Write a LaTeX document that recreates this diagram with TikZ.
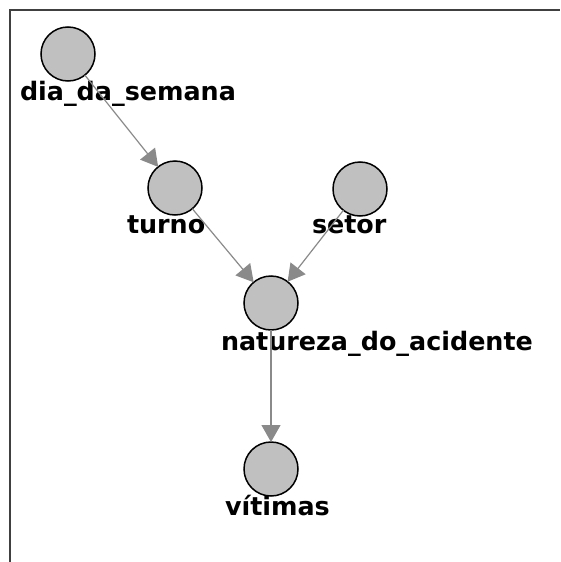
\documentclass[tikz,border=0pt]{standalone}
\usepackage{fontspec}
\setmainfont{DejaVu Sans}
\usetikzlibrary{arrows.meta}
\definecolor{nodefill}{HTML}{C0C0C0}
\definecolor{edgegray}{HTML}{8A8A8A}
\definecolor{framegray}{HTML}{404040}
\tikzset{
  bnode/.style={circle, draw=black, line width=1.5pt, fill=nodefill, minimum size=54pt, inner sep=0pt, outer sep=0pt},
  blabel/.style={anchor=base west, inner sep=0pt, outer sep=0pt, font=\bfseries\fontsize{25.4}{30}\selectfont},
  edge/.style={draw=edgegray, line width=1.2pt, -{Triangle[length=17pt,width=19pt]}, shorten <=0pt, shorten >=0pt}
}
\begin{document}
\begin{tikzpicture}[x=1pt,y=-1pt]
\useasboundingbox (0,0) rectangle (560,562);
\draw[framegray, line width=2.4pt] (10,562) -- (10,10) -- (560,10);
\node[bnode] (dia) at (68,54) {};
\node[bnode] (tur) at (175,188) {};
\node[bnode] (set) at (360,189) {};
\node[bnode] (nat) at (271,303) {};
\node[bnode] (vit) at (271,469) {};
\node[blabel] (ldia) at (20,100) {dia\_da\_semana};
\node[blabel] (ltur) at (127,233) {turno};
\node[blabel] (lset) at (312,233) {setor};
\node[blabel] (lnat) at (221,350) {natureza\_do\_acidente};
\node[blabel] (lvit) at (225,515) {vítimas};
\draw[edge] (dia) -- (tur);
\draw[edge] (tur) -- (nat);
\draw[edge] (set) -- (nat);
\draw[edge] (nat) -- (vit);
\end{tikzpicture}
\end{document}
